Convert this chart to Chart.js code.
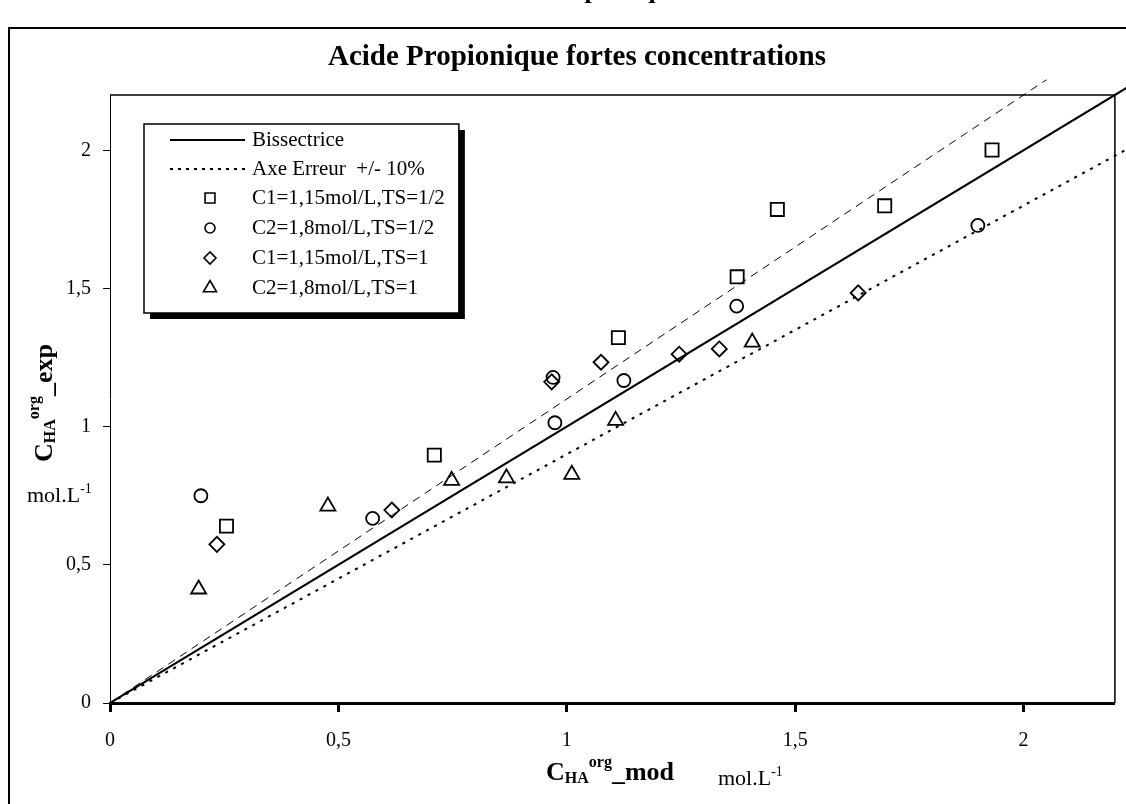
<!DOCTYPE html>
<html>
<head>
<meta charset="utf-8">
<script src="https://cdn.jsdelivr.net/npm/chart.js@4/dist/chart.umd.min.js"></script>
<style>
  html, body { margin: 0; padding: 0; background: #fff; }
  canvas { display: block; }
</style>
</head>
<body>
<canvas id="chart" width="1126" height="804"></canvas>
<script>
// reference lines
const bisX = [0, 2.25];
const bisY = [0, 2.25];
const errPlusX = [0, 2.05];
const errPlusY = [0, 2.255];
const errMinusX = [0, 2.25];
const errMinusY = [0, 2.025];

// C1=1,15mol/L, TS=1/2 (squares)
const c1ts05X = [0.255, 0.710, 1.113, 1.373, 1.461, 1.696, 1.931];
const c1ts05Y = [0.640, 0.897, 1.322, 1.542, 1.786, 1.799, 2.001];
// C2=1,8mol/L, TS=1/2 (circles)
const c2ts05X = [0.199, 0.575, 0.970, 0.974, 1.125, 1.372, 1.900];
const c2ts05Y = [0.750, 0.668, 1.178, 1.014, 1.167, 1.436, 1.728];
// C1=1,15mol/L, TS=1 (diamonds)
const c1ts1X = [0.234, 0.617, 0.967, 1.075, 1.246, 1.334, 1.638];
const c1ts1Y = [0.574, 0.698, 1.162, 1.233, 1.262, 1.281, 1.484];
// C2=1,8mol/L, TS=1 (triangles)
const c2ts1X = [0.194, 0.477, 0.748, 0.868, 1.011, 1.107, 1.406];
const c2ts1Y = [0.412, 0.712, 0.805, 0.814, 0.827, 1.022, 1.305];

const tickValues = [0, 0.5, 1, 1.5, 2];

const FONT = '"Liberation Serif", "Times New Roman", serif';

function toPoints(xs, ys) {
    return xs.map((x, i) => ({ x: x, y: ys[i] }));
}

function fmt(v) {
    return String(v).replace('.', ',');
}

function drawParts(ctx, parts, x, y) {
    parts.forEach(p => {
        ctx.font = p.font;
        ctx.fillText(p.text, x, y + (p.dy || 0));
        x += ctx.measureText(p.text).width;
    });
}

const bold = s => `bold ${s}px ${FONT}`;
const reg = s => `${s}px ${FONT}`;

// titles, frame, plot border, legend
const decorPlugin = {
    id: 'decor',
    afterDraw(chart) {
        const ctx = chart.ctx;
        const area = chart.chartArea;
        ctx.save();

        // outer frame
        ctx.strokeStyle = '#000';
        ctx.lineWidth = 2;
        ctx.strokeRect(9, 28, 1130, 800);

        // cut title of the page above
        ctx.fillStyle = '#000';
        ctx.textAlign = 'center';
        ctx.textBaseline = 'alphabetic';
        ctx.font = bold(26);
        ctx.fillText('Acide Propionique', 578, -2);

        // chart title
        ctx.font = bold(29);
        ctx.fillText('Acide Propionique fortes concentrations', 577, 65);

        // plot border top / right
        ctx.lineWidth = 1.5;
        ctx.beginPath();
        ctx.moveTo(area.left, area.top);
        ctx.lineTo(area.right, area.top);
        ctx.lineTo(area.right, area.bottom);
        ctx.stroke();

        // axis titles
        ctx.textAlign = 'left';
        drawParts(ctx, [
            { text: 'C', font: bold(26) },
            { text: 'HA', font: bold(16), dy: 3 },
            { text: 'org', font: bold(16), dy: -13 },
            { text: '_mod', font: bold(26) }
        ], 546, 780);
        drawParts(ctx, [
            { text: 'mol.L', font: reg(22) },
            { text: '-1', font: reg(14), dy: -9 }
        ], 718, 785);

        ctx.save();
        ctx.translate(52, 462);
        ctx.rotate(-Math.PI / 2);
        drawParts(ctx, [
            { text: 'C', font: bold(26) },
            { text: 'HA', font: bold(16), dy: 3 },
            { text: 'org', font: bold(16), dy: -13 },
            { text: '_exp', font: bold(26) }
        ], 0, 0);
        ctx.restore();
        drawParts(ctx, [
            { text: 'mol.L', font: reg(22) },
            { text: '-1', font: reg(14), dy: -9 }
        ], 27, 502);

        // legend box
        const entries = chart.data.datasets.filter(d => d.inLegend);
        ctx.font = reg(21);
        const textX = 252;
        const maxW = Math.max(...entries.map(d => ctx.measureText(d.label).width));
        const bx = 144, by = 124, bw = textX + maxW + 14 - bx, bh = 189;
        ctx.fillStyle = '#000';
        ctx.fillRect(bx + 6, by + 6, bw, bh);
        ctx.fillStyle = '#fff';
        ctx.fillRect(bx, by, bw, bh);
        ctx.strokeStyle = '#000';
        ctx.lineWidth = 1.5;
        ctx.strokeRect(bx, by, bw, bh);

        const rowY = [140, 169, 198, 228, 258, 288];
        entries.forEach((d, i) => {
            const y = rowY[i];
            if (d.showLine) {
                ctx.save();
                ctx.strokeStyle = '#000';
                ctx.lineWidth = d.borderWidth;
                ctx.setLineDash(d.legendDash || []);
                ctx.beginPath();
                ctx.moveTo(170, y);
                ctx.lineTo(245, y);
                ctx.stroke();
                ctx.restore();
            } else {
                ctx.save();
                ctx.strokeStyle = '#000';
                ctx.fillStyle = 'rgba(0,0,0,0)';
                ctx.lineWidth = 1.6;
                Chart.helpers.drawPoint(ctx, {
                    pointStyle: d.pointStyle,
                    radius: d.legendRadius,
                    rotation: 0,
                    borderWidth: 1.6
                }, 210, y);
                ctx.restore();
            }
            ctx.fillStyle = '#000';
            ctx.font = reg(21);
            ctx.textBaseline = 'middle';
            ctx.fillText(d.label, textX, y);
        });

        ctx.restore();
    }
};

const lineDs = (label, xs, ys, width, dash, inLegend, legendDash) => ({
    label: label,
    data: toPoints(xs, ys),
    showLine: true,
    borderColor: '#000',
    borderWidth: width,
    borderDash: dash,
    pointRadius: 0,
    fill: false,
    clip: { left: 0, top: 16, right: 16, bottom: 0 },
    inLegend: inLegend,
    legendDash: legendDash
});

const pointDs = (label, xs, ys, style, radius, legendRadius) => ({
    label: label,
    data: toPoints(xs, ys),
    showLine: false,
    pointStyle: style,
    pointRadius: radius,
    pointHoverRadius: radius,
    pointBorderColor: '#000',
    pointBackgroundColor: 'rgba(0,0,0,0)',
    pointBorderWidth: 1.8,
    inLegend: true,
    legendRadius: legendRadius
});

new Chart(document.getElementById('chart'), {
    type: 'scatter',
    data: {
        datasets: [
            lineDs('Bissectrice', bisX, bisY, 2, [], true),
            lineDs('Axe Erreur  +/- 10%', errMinusX, errMinusY, 2, [3, 6], true, [3, 5]),
            lineDs('', errPlusX, errPlusY, 1, [8, 6], false),
            pointDs('C1=1,15mol/L,TS=1/2', c1ts05X, c1ts05Y, 'rect', 9.3, 7),
            pointDs('C2=1,8mol/L,TS=1/2', c2ts05X, c2ts05Y, 'circle', 6.5, 5),
            pointDs('C1=1,15mol/L,TS=1', c1ts1X, c1ts1Y, 'rectRot', 7.5, 6),
            pointDs('C2=1,8mol/L,TS=1', c2ts1X, c2ts1Y, 'triangle', 8.7, 7.5)
        ]
    },
    options: {
        responsive: false,
        animation: false,
        devicePixelRatio: 1,
        layout: { padding: { top: 95, right: 11, left: 0, bottom: 0 } },
        plugins: {
            legend: { display: false },
            title: { display: false },
            tooltip: { enabled: false }
        },
        scales: {
            x: {
                type: 'linear',
                min: 0,
                max: 2.2,
                afterFit: s => { s.height = 101; },
                afterBuildTicks: s => { s.ticks = tickValues.map(v => ({ value: v })); },
                ticks: {
                    color: '#000',
                    font: { family: FONT, size: 20 },
                    padding: 17,
                    maxRotation: 0,
                    callback: v => fmt(v)
                },
                grid: {
                    drawOnChartArea: false,
                    drawTicks: true,
                    tickLength: 9,
                    tickWidth: 3,
                    tickColor: '#000'
                },
                border: { color: '#000', width: 3 }
            },
            y: {
                type: 'linear',
                min: 0,
                max: 2.2,
                afterFit: s => { s.width = 110; },
                afterBuildTicks: s => { s.ticks = tickValues.map(v => ({ value: v })); },
                ticks: {
                    color: '#000',
                    font: { family: FONT, size: 20 },
                    padding: 12,
                    callback: v => fmt(v)
                },
                grid: {
                    drawOnChartArea: false,
                    drawTicks: true,
                    tickLength: 7,
                    tickWidth: 1,
                    tickColor: '#000'
                },
                border: { color: '#000', width: 1 }
            }
        }
    },
    plugins: [decorPlugin]
});
</script>
</body>
</html>
